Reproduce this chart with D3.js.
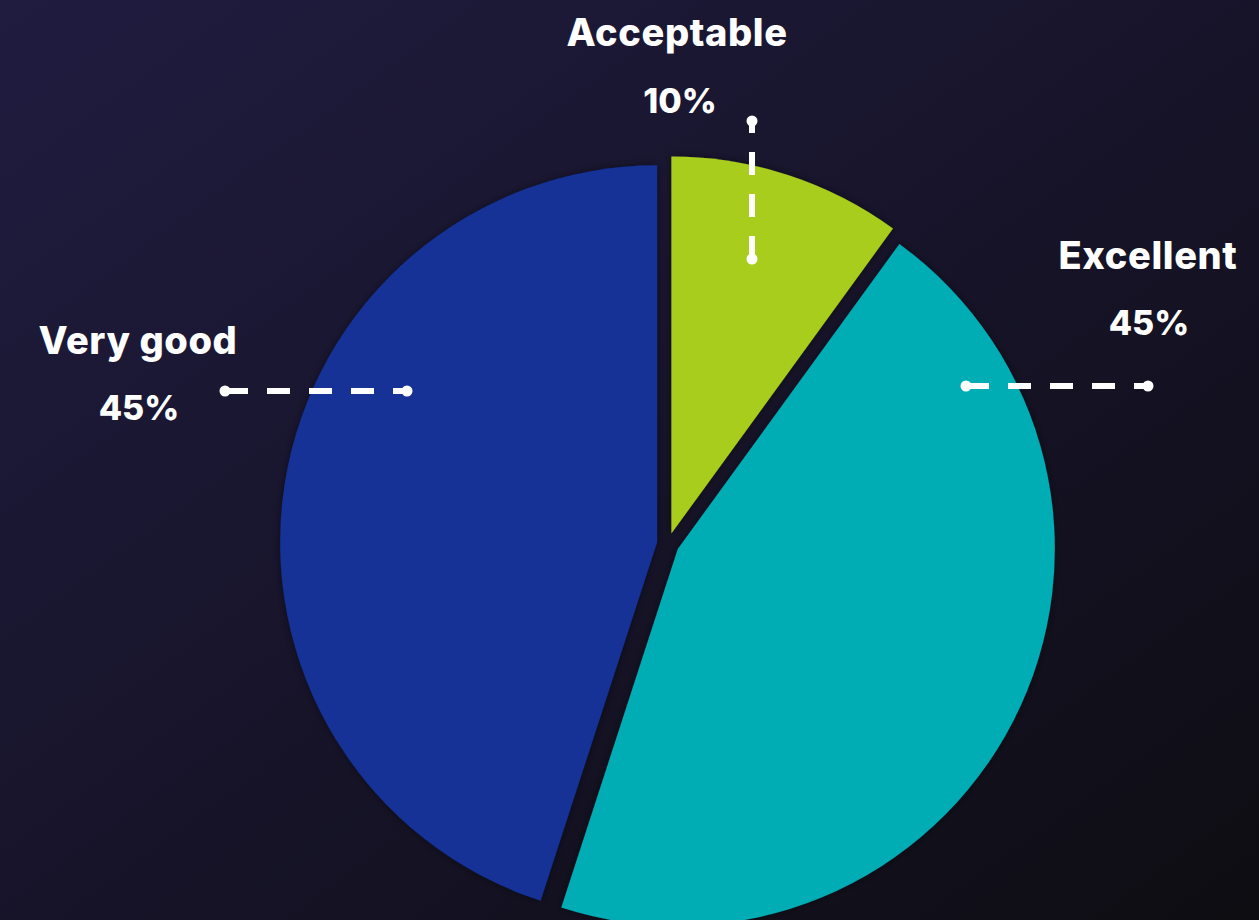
<!DOCTYPE html>
<meta charset="utf-8" />
<script src="https://d3js.org/d3.v7.min.js"></script>
<style>
	html, body { margin: 0; padding: 0; background: #15132a; }
	svg { display: block; }
</style>
<div id="my_dataviz"></div>

<script>
	// data
	var categories = ["Acceptable", "Excellent", "Very good"];
	var values = [10, 45, 45];
	var colors = ["#a8cd1f", "#00adb5", "#123296"];

	// annotation layout (leader line ends + label spots), in pixels
	var leaders = {
		"Acceptable": { from: [752, 259], to: [752, 121], label: [677, 46], pct: [680, 113] },
		"Excellent": { from: [966, 386], to: [1148, 386], label: [1148, 269], pct: [1149, 335] },
		"Very good": { from: [225, 391], to: [407, 391], label: [138, 354], pct: [139, 420] }
	};

	var width = 1259,
		height = 920,
		cx = 668,
		cy = 544,
		radius = 377,
		explode = 11;

	var svg = d3
		.select("#my_dataviz")
		.append("svg")
		.attr("width", width)
		.attr("height", height);

	var defs = svg.append("defs");

	// background gradient
	var bg = defs.append("linearGradient")
		.attr("id", "bg")
		.attr("x1", "0%").attr("y1", "0%")
		.attr("x2", "100%").attr("y2", "100%");
	bg.append("stop").attr("offset", "0%").attr("stop-color", "#201c40");
	bg.append("stop").attr("offset", "50%").attr("stop-color", "#17142a");
	bg.append("stop").attr("offset", "100%").attr("stop-color", "#0e0d12");

	svg.append("rect")
		.attr("width", width)
		.attr("height", height)
		.attr("fill", "url(#bg)");

	// soft shadow round the slices
	defs.append("filter")
		.attr("id", "shadow")
		.attr("x", "-20%").attr("y", "-20%")
		.attr("width", "140%").attr("height", "140%")
		.append("feDropShadow")
		.attr("dx", 0).attr("dy", 0)
		.attr("stdDeviation", 4)
		.attr("flood-color", "#000")
		.attr("flood-opacity", 0.45);

	var data = categories.map((c, i) => ({ name: c, value: values[i], color: colors[i] }));

	var pie = d3.pie()
		.sort(null)
		.value(d => d.value);

	var arc = d3.arc()
		.innerRadius(0)
		.outerRadius(radius);

	var g = svg.append("g")
		.attr("transform", "translate(" + cx + "," + cy + ")");

	// slices, every one pulled out a little from the centre
	g.selectAll("path")
		.data(pie(data))
		.join("path")
		.attr("d", arc)
		.attr("fill", d => d.data.color)
		.attr("filter", "url(#shadow)")
		.attr("transform", function (d) {
			var mid = (d.startAngle + d.endAngle) / 2;
			return "translate(" + explode * Math.sin(mid) + "," + -explode * Math.cos(mid) + ")";
		});

	// leader lines and labels
	var ann = svg.append("g");
	var fmt = d3.format(".0%");
	var total = d3.sum(values);

	data.forEach(function (d) {
		var l = leaders[d.name];
		ann.append("line")
			.attr("x1", Math.min(l.from[0], l.to[0]))
			.attr("x2", Math.max(l.from[0], l.to[0]))
			.attr("y1", Math.max(l.from[1], l.to[1]))
			.attr("y2", Math.min(l.from[1], l.to[1]))
			.attr("stroke", "#fff")
			.attr("stroke-width", 6)
			.attr("stroke-dasharray", "23,19");
		[l.from, l.to].forEach(function (p) {
			ann.append("circle")
				.attr("cx", p[0])
				.attr("cy", p[1])
				.attr("r", 5.5)
				.attr("fill", "#fff");
		});
		ann.append("text")
			.attr("x", l.label[0])
			.attr("y", l.label[1])
			.attr("text-anchor", "middle")
			.attr("fill", "#fff")
			.style("font-family", "Inter, 'Open Sans', sans-serif")
			.style("font-weight", 800)
			.style("font-size", "38px")
			.style("letter-spacing", "0.6px")
			.text(d.name);
		ann.append("text")
			.attr("x", l.pct[0])
			.attr("y", l.pct[1])
			.attr("text-anchor", "middle")
			.attr("fill", "#fff")
			.style("font-family", "Inter, 'Open Sans', sans-serif")
			.style("font-weight", 800)
			.style("font-size", "34px")
			.text(fmt(d.value / total));
	});
</script>
